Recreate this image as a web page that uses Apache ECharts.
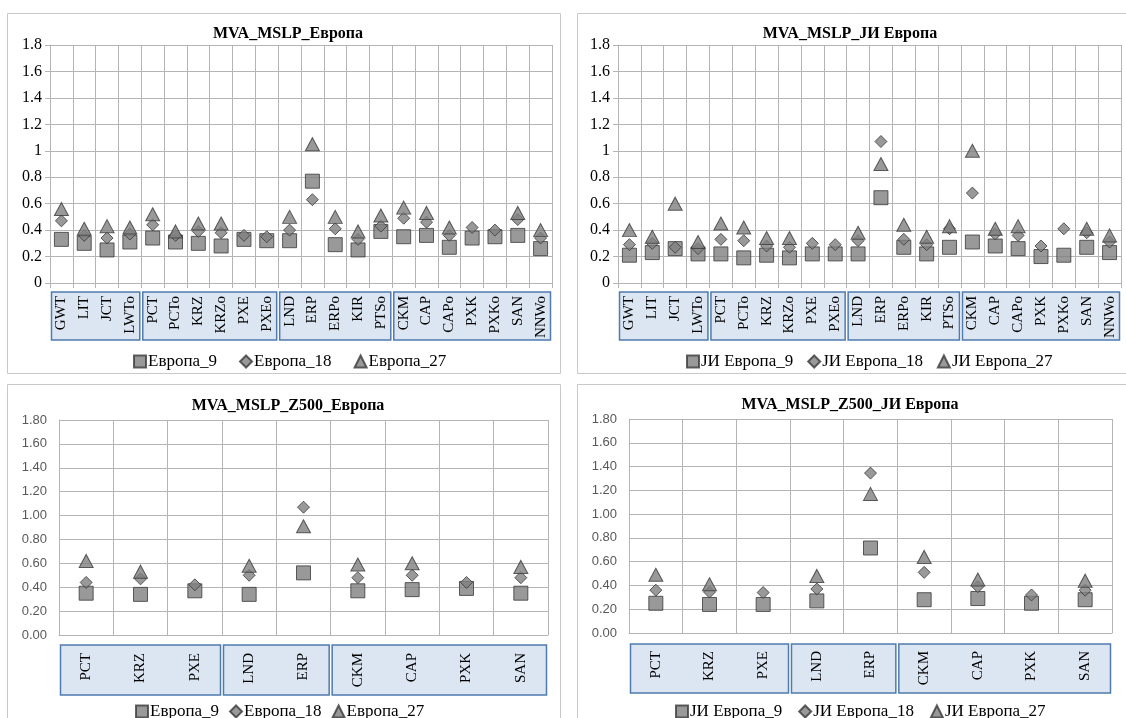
<!DOCTYPE html>
<html><head><meta charset="utf-8">
<script src="https://cdn.jsdelivr.net/npm/echarts@6/dist/echarts.min.js"></script>
<style>html,body{margin:0;padding:0;background:#fff}#c{width:1126px;height:718px}</style>
</head><body><div id="c"></div>
<script>
// ---- DATA ----
const catsMSLP = ['GWT','LIT','JCT','LWTo','PCT','PCTo','KRZ','KRZo','PXE','PXEo','LND','ERP','ERPo','KIR','PTSo','CKM','CAP','CAPo','PXK','PXKo','SAN','NNWo'];
const groupSizesMSLP = [4, 6, 5, 7];
const catsZ500 = ['PCT','KRZ','PXE','LND','ERP','CKM','CAP','PXK','SAN'];
const groupSizesZ500 = [3, 2, 4];

// MVA_MSLP_Европа
const eu9  = [0.33,0.30,0.25,0.31,0.34,0.31,0.30,0.28,0.33,0.32,0.32,0.77,0.29,0.25,0.39,0.35,0.36,0.27,0.34,0.35,0.36,0.26];
const eu18 = [0.47,0.36,0.34,0.37,0.44,0.36,0.39,0.38,0.36,0.35,0.40,0.63,0.41,0.33,0.43,0.49,0.46,0.36,0.42,0.40,0.48,0.34];
const eu27 = [0.56,0.41,0.43,0.42,0.52,0.39,0.45,0.45,null,null,0.50,1.05,0.50,0.39,0.51,0.57,0.53,0.42,null,null,0.53,0.40];
// MVA_MSLP_ЈИ Европа
const se9  = [0.21,0.23,0.26,0.22,0.22,0.19,0.21,0.19,0.22,0.22,0.22,0.645,0.27,0.22,0.27,0.31,0.28,0.26,0.20,0.21,0.27,0.23];
const se18 = [0.29,0.30,0.27,0.26,0.33,0.32,0.28,0.27,0.30,0.29,0.32,1.07,0.33,0.29,0.41,0.68,0.37,0.36,0.28,0.41,0.38,0.31];
const se27 = [0.40,0.35,0.60,0.31,0.45,0.42,0.34,0.34,null,null,0.38,0.90,0.44,0.35,0.43,1.00,0.41,0.43,null,null,0.41,0.36];
// MVA_MSLP_Z500_Европа
const zeu9  = [0.35,0.34,0.37,0.34,0.52,0.37,0.38,0.39,0.35];
const zeu18 = [0.44,0.47,0.42,0.50,1.07,0.48,0.50,0.44,0.48];
const zeu27 = [0.62,0.53,null,0.58,0.91,0.59,0.60,null,0.57];
// MVA_MSLP_Z500_ЈИ Европа
const zse9  = [0.25,0.24,0.24,0.27,0.715,0.28,0.29,0.25,0.28];
const zse18 = [0.36,0.345,0.34,0.37,1.345,0.51,0.39,0.32,0.36];
const zse27 = [0.49,0.41,null,0.48,1.17,0.64,0.45,null,0.44];

const titles = ['MVA_MSLP_Европа','MVA_MSLP_ЈИ Европа','MVA_MSLP_Z500_Европа','MVA_MSLP_Z500_ЈИ Европа'];
const namesEU = ['Европа_9','Европа_18','Европа_27'];
const namesSE = ['ЈИ Европа_9','ЈИ Европа_18','ЈИ Европа_27'];
const yMax = 1.8, yStep = 0.2;

// ---- LAYOUT ----
const SERIF = '"Liberation Serif","Times New Roman",serif';
const SANS = '"Liberation Sans",Arial,sans-serif';
const panels = [
  {cats: catsMSLP, groups: groupSizesMSLP, vals: [eu9,eu18,eu27], names: namesEU,
   grid: {left: 50, top: 45, width: 502, height: 238}, titleX: 283, titleY: 21,
   legendX: 128, legendY: 348, legendGap: 22, box: [292, 340], labelMargin: 13, frame: [7, 13, 553, 360], bottomStyle: false},
  {cats: catsMSLP, groups: groupSizesMSLP, vals: [se9,se18,se27], names: namesSE,
   grid: {left: 618, top: 45, width: 503, height: 238}, titleX: 845, titleY: 21,
   legendX: 681, legendY: 348, legendGap: 14, box: [292, 340], labelMargin: 13, frame: [577, 13, 560, 360], bottomStyle: false},
  {cats: catsZ500, groups: groupSizesZ500, vals: [zeu9,zeu18,zeu27], names: namesEU,
   grid: {left: 59, top: 420, width: 489, height: 215}, titleX: 283, titleY: 393,
   legendX: 130, legendY: 698, legendGap: 10, box: [645, 695], labelMargin: 18, frame: [7, 384, 553, 345], bottomStyle: true},
  {cats: catsZ500, groups: groupSizesZ500, vals: [zse9,zse18,zse27], names: namesSE,
   grid: {left: 629, top: 419, width: 483, height: 214}, titleX: 845, titleY: 392,
   legendX: 670, legendY: 698, legendGap: 16, box: [644, 693], labelMargin: 18, frame: [577, 384, 560, 345], bottomStyle: true}
];
const symbols = ['rect', 'diamond', 'triangle'];
const symSizes = [14, [12, 12], [14, 13]];
const markStyle = {color: '#7f7f7f', borderColor: '#3a3a3a', borderWidth: 1};
const gridColor = '#b4b4b4';

const chart = echarts.init(document.getElementById('c'), null, {renderer: 'canvas'});
const option = {
  backgroundColor: '#fff', animation: false,
  title: [], grid: [], xAxis: [], yAxis: [], series: [], legend: []
};
panels.forEach((p, i) => {
  option.title.push({text: titles[i], left: p.titleX, top: p.titleY, textAlign: 'center',
    textStyle: {fontFamily: SERIF, fontSize: 16, fontWeight: 'bold', color: '#000'}});
  option.grid.push(Object.assign({containLabel: false}, p.grid));
  option.xAxis.push({type: 'category', gridIndex: i, data: p.cats, boundaryGap: true,
    axisLine: {lineStyle: {color: gridColor}}, axisTick: {show: true, length: p.bottomStyle ? 0 : 5, lineStyle: {color: gridColor}},
    splitLine: {show: true, lineStyle: {color: gridColor}},
    axisLabel: {rotate: 90, margin: p.labelMargin, interval: 0, fontFamily: SERIF, fontSize: 15, color: '#000'}});
  option.yAxis.push({type: 'value', gridIndex: i, min: 0, max: yMax, interval: yStep,
    axisLine: {show: true, lineStyle: {color: gridColor}},
    axisTick: {show: true, length: p.bottomStyle ? 0 : 5, lineStyle: {color: gridColor}},
    splitLine: {show: true, lineStyle: {color: gridColor}},
    axisLabel: p.bottomStyle
      ? {margin: 12, fontFamily: SANS, fontSize: 13, color: '#595959', formatter: v => v.toFixed(2)}
      : {margin: 8, fontFamily: SERIF, fontSize: 16, color: '#000', formatter: v => String(+v.toFixed(1))}});
  p.vals.forEach((arr, k) => {
    option.series.push({type: 'scatter', name: p.names[k], xAxisIndex: i, yAxisIndex: i,
      symbol: symbols[k], symbolSize: symSizes[k], itemStyle: markStyle, z: 2 + k,
      data: arr.map(v => v === null ? '-' : v)});
  });
  option.legend.push({data: p.names.map(n => ({name: n})), left: p.legendX, top: p.legendY,
    itemWidth: 12, itemHeight: 12, itemGap: p.legendGap, selectedMode: false,
    textStyle: {fontFamily: SERIF, fontSize: 17, color: '#000', padding: [0, 0, 0, -3]}});
});
chart.setOption(option);

// panel frames and category group boxes (positions from the axis scales)
const graphics = [];
panels.forEach((p, i) => {
  const [fx, fy, fw, fh] = p.frame;
  graphics.push({type: 'rect', z: -10, shape: {x: fx + 0.5, y: fy + 0.5, width: fw, height: fh},
    style: {fill: null, stroke: '#c9c9c9', lineWidth: 1}});
  const c0 = chart.convertToPixel({xAxisIndex: i}, p.cats[0]);
  const c1 = chart.convertToPixel({xAxisIndex: i}, p.cats[1]);
  const bw = c1 - c0;
  let start = 0;
  p.groups.forEach(g => {
    const xL = chart.convertToPixel({xAxisIndex: i}, p.cats[start]) - bw / 2;
    const xR = chart.convertToPixel({xAxisIndex: i}, p.cats[start + g - 1]) + bw / 2;
    graphics.push({type: 'rect', z: -5, shape: {x: xL + 1.5, y: p.box[0], width: xR - xL - 3, height: p.box[1] - p.box[0]},
      style: {fill: '#dce6f2', stroke: '#4f7bae', lineWidth: 1.5}});
    start += g;
  });
});
chart.setOption({graphic: {elements: graphics}});
</script>
</body></html>
